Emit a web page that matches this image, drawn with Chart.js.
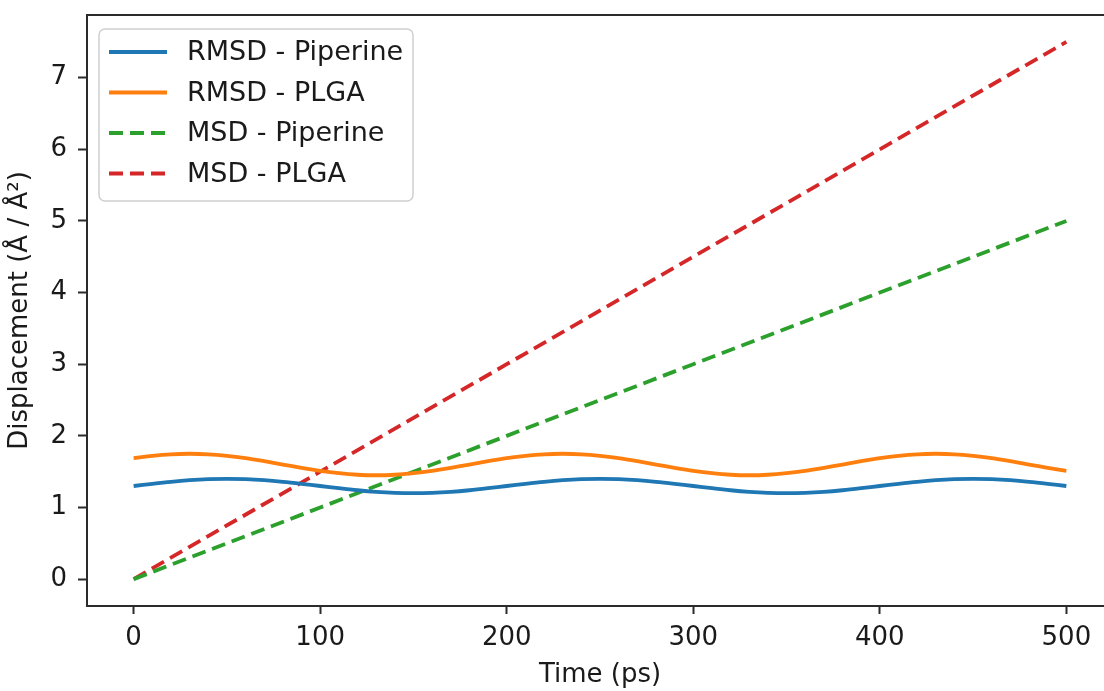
<!DOCTYPE html>
<html>
<head>
<meta charset="utf-8">
<script src="https://cdn.jsdelivr.net/npm/chart.js@4.4.0/dist/chart.umd.min.js"></script>
<style>
  html, body { margin: 0; padding: 0; background: #fff; overflow: hidden; }
  #wrap { width: 1113px; height: 691px; }
</style>
</head>
<body>
<div id="wrap"><canvas id="c" width="1113" height="691"></canvas></div>
<script>
// ---- data ----
const timePs = [0,10,20,30,40,50,60,70,80,90,100,110,120,130,140,150,160,170,180,190,
                200,210,220,230,240,250,260,270,280,290,300,310,320,330,340,350,360,370,380,390,
                400,410,420,430,440,450,460,470,480,490,500];
const rmsdPiperine = [1.300,1.331,1.359,1.381,1.395,1.400,1.395,1.381,1.359,1.331,
                      1.300,1.269,1.241,1.219,1.205,1.200,1.205,1.219,1.241,1.269,
                      1.300,1.331,1.359,1.381,1.395,1.400,1.395,1.381,1.359,1.331,
                      1.300,1.269,1.241,1.219,1.205,1.200,1.205,1.219,1.241,1.269,
                      1.300,1.331,1.359,1.381,1.395,1.400,1.395,1.381,1.359,1.331,
                      1.300];
const rmsdPlga = [1.688,1.721,1.743,1.750,1.743,1.721,1.688,1.646,1.600,1.554,
                  1.512,1.479,1.457,1.450,1.457,1.479,1.512,1.554,1.600,1.646,
                  1.688,1.721,1.743,1.750,1.743,1.721,1.688,1.646,1.600,1.554,
                  1.512,1.479,1.457,1.450,1.457,1.479,1.512,1.554,1.600,1.646,
                  1.688,1.721,1.743,1.750,1.743,1.721,1.688,1.646,1.600,1.554,
                  1.512];
const msdTime = [0,100,200,300,400,500];
const msdPiperine = [0,1.0,2.0,3.0,4.0,5.0];
const msdPlga = [0,1.5,3.0,4.5,6.0,7.5];
const xTickValues = [0,100,200,300,400,500];
const yTickValues = [0,1,2,3,4,5,6,7];
const seriesLabels = ['RMSD - Piperine','RMSD - PLGA','MSD - Piperine','MSD - PLGA'];
const xTitle = 'Time (ps)';
const yTitle = 'Displacement (Å / Å²)';

// ---- styling ----
const FONT = "'DejaVu Sans', sans-serif";
const colors = ['#1f77b4','#ff7f0e','#2ca02c','#d62728'];
const LW = 3.8;
const DASH = [14, 7];

const pts = (xs, ys) => xs.map((x, i) => ({x: x, y: ys[i]}));

const frame = {
  id: 'frame',
  afterDatasetsDraw(chart) {
    const a = chart.chartArea, ctx = chart.ctx;
    ctx.save();
    ctx.strokeStyle = '#2b2b2b';
    ctx.lineWidth = 2;
    ctx.strokeRect(a.left, a.top, a.right - a.left, a.bottom - a.top);
    ctx.restore();
  }
};

const mplLegend = {
  id: 'mplLegend',
  afterDraw(chart) {
    const a = chart.chartArea, ctx = chart.ctx;
    const bx = a.left + 12, by = a.top + 14, bw = 314, bh = 172, r = 6;
    ctx.save();
    ctx.beginPath();
    ctx.moveTo(bx + r, by);
    ctx.lineTo(bx + bw - r, by);
    ctx.arcTo(bx + bw, by, bx + bw, by + r, r);
    ctx.lineTo(bx + bw, by + bh - r);
    ctx.arcTo(bx + bw, by + bh, bx + bw - r, by + bh, r);
    ctx.lineTo(bx + r, by + bh);
    ctx.arcTo(bx, by + bh, bx, by + bh - r, r);
    ctx.lineTo(bx, by + r);
    ctx.arcTo(bx, by, bx + r, by, r);
    ctx.closePath();
    ctx.fillStyle = 'rgba(255,255,255,0.85)';
    ctx.fill();
    ctx.strokeStyle = '#d0d0d0';
    ctx.lineWidth = 1.5;
    ctx.stroke();
    chart.data.datasets.forEach((ds, i) => {
      const y = by + 23 + i * 40.5;
      ctx.beginPath();
      ctx.setLineDash(ds.borderDash || []);
      ctx.strokeStyle = ds.borderColor;
      ctx.lineWidth = ds.borderWidth;
      ctx.moveTo(bx + 10, y);
      ctx.lineTo(bx + 68, y);
      ctx.stroke();
      ctx.setLineDash([]);
      ctx.fillStyle = '#1a1a1a';
      ctx.font = '27px ' + FONT;
      ctx.textBaseline = 'middle';
      ctx.textAlign = 'left';
      ctx.fillText(ds.label, bx + 88, y + 1);
    });
    ctx.restore();
  }
};

new Chart(document.getElementById('c'), {
  type: 'line',
  data: {
    datasets: [
      { label: seriesLabels[0], data: pts(timePs, rmsdPiperine), borderColor: colors[0], borderWidth: LW, pointRadius: 0, tension: 0.3, fill: false },
      { label: seriesLabels[1], data: pts(timePs, rmsdPlga), borderColor: colors[1], borderWidth: LW, pointRadius: 0, tension: 0.3, fill: false },
      { label: seriesLabels[2], data: pts(msdTime, msdPiperine), borderColor: colors[2], borderWidth: LW, borderDash: DASH, pointRadius: 0, tension: 0, fill: false },
      { label: seriesLabels[3], data: pts(msdTime, msdPlga), borderColor: colors[3], borderWidth: LW, borderDash: DASH, pointRadius: 0, tension: 0, fill: false }
    ]
  },
  options: {
    responsive: false,
    animation: false,
    layout: { padding: { top: 15, left: 0, right: 0, bottom: 0 } },
    plugins: { legend: { display: false }, tooltip: { enabled: false } },
    scales: {
      x: {
        type: 'linear',
        min: -25, max: 525,
        afterBuildTicks: s => { s.ticks = xTickValues.map(v => ({value: v})); },
        afterFit: s => { s.height = 85; s.paddingLeft = 0; s.paddingRight = 0; },
        border: { display: false },
        grid: { display: true, drawOnChartArea: false, drawTicks: true, tickLength: 8, tickWidth: 2, color: '#2b2b2b' },
        ticks: { color: '#1a1a1a', font: { family: FONT, size: 26 }, padding: 9, maxRotation: 0, autoSkip: false },
        title: { display: true, text: xTitle, color: '#1a1a1a', font: { family: FONT, size: 26 }, padding: { top: 0, bottom: 0 } }
      },
      y: {
        type: 'linear',
        min: -0.375, max: 7.875,
        afterBuildTicks: s => { s.ticks = yTickValues.map(v => ({value: v})); },
        afterFit: s => { s.width = 87; s.paddingTop = 0; s.paddingBottom = 0; },
        border: { display: false },
        grid: { display: true, drawOnChartArea: false, drawTicks: true, tickLength: 9, tickWidth: 2, color: '#2b2b2b' },
        ticks: { color: '#1a1a1a', font: { family: FONT, size: 26 }, padding: 11, autoSkip: false },
        title: { display: true, text: yTitle, color: '#1a1a1a', font: { family: FONT, size: 26 }, padding: { top: 5, bottom: 0 } }
      }
    }
  },
  plugins: [frame, mplLegend]
});
</script>
</body>
</html>
